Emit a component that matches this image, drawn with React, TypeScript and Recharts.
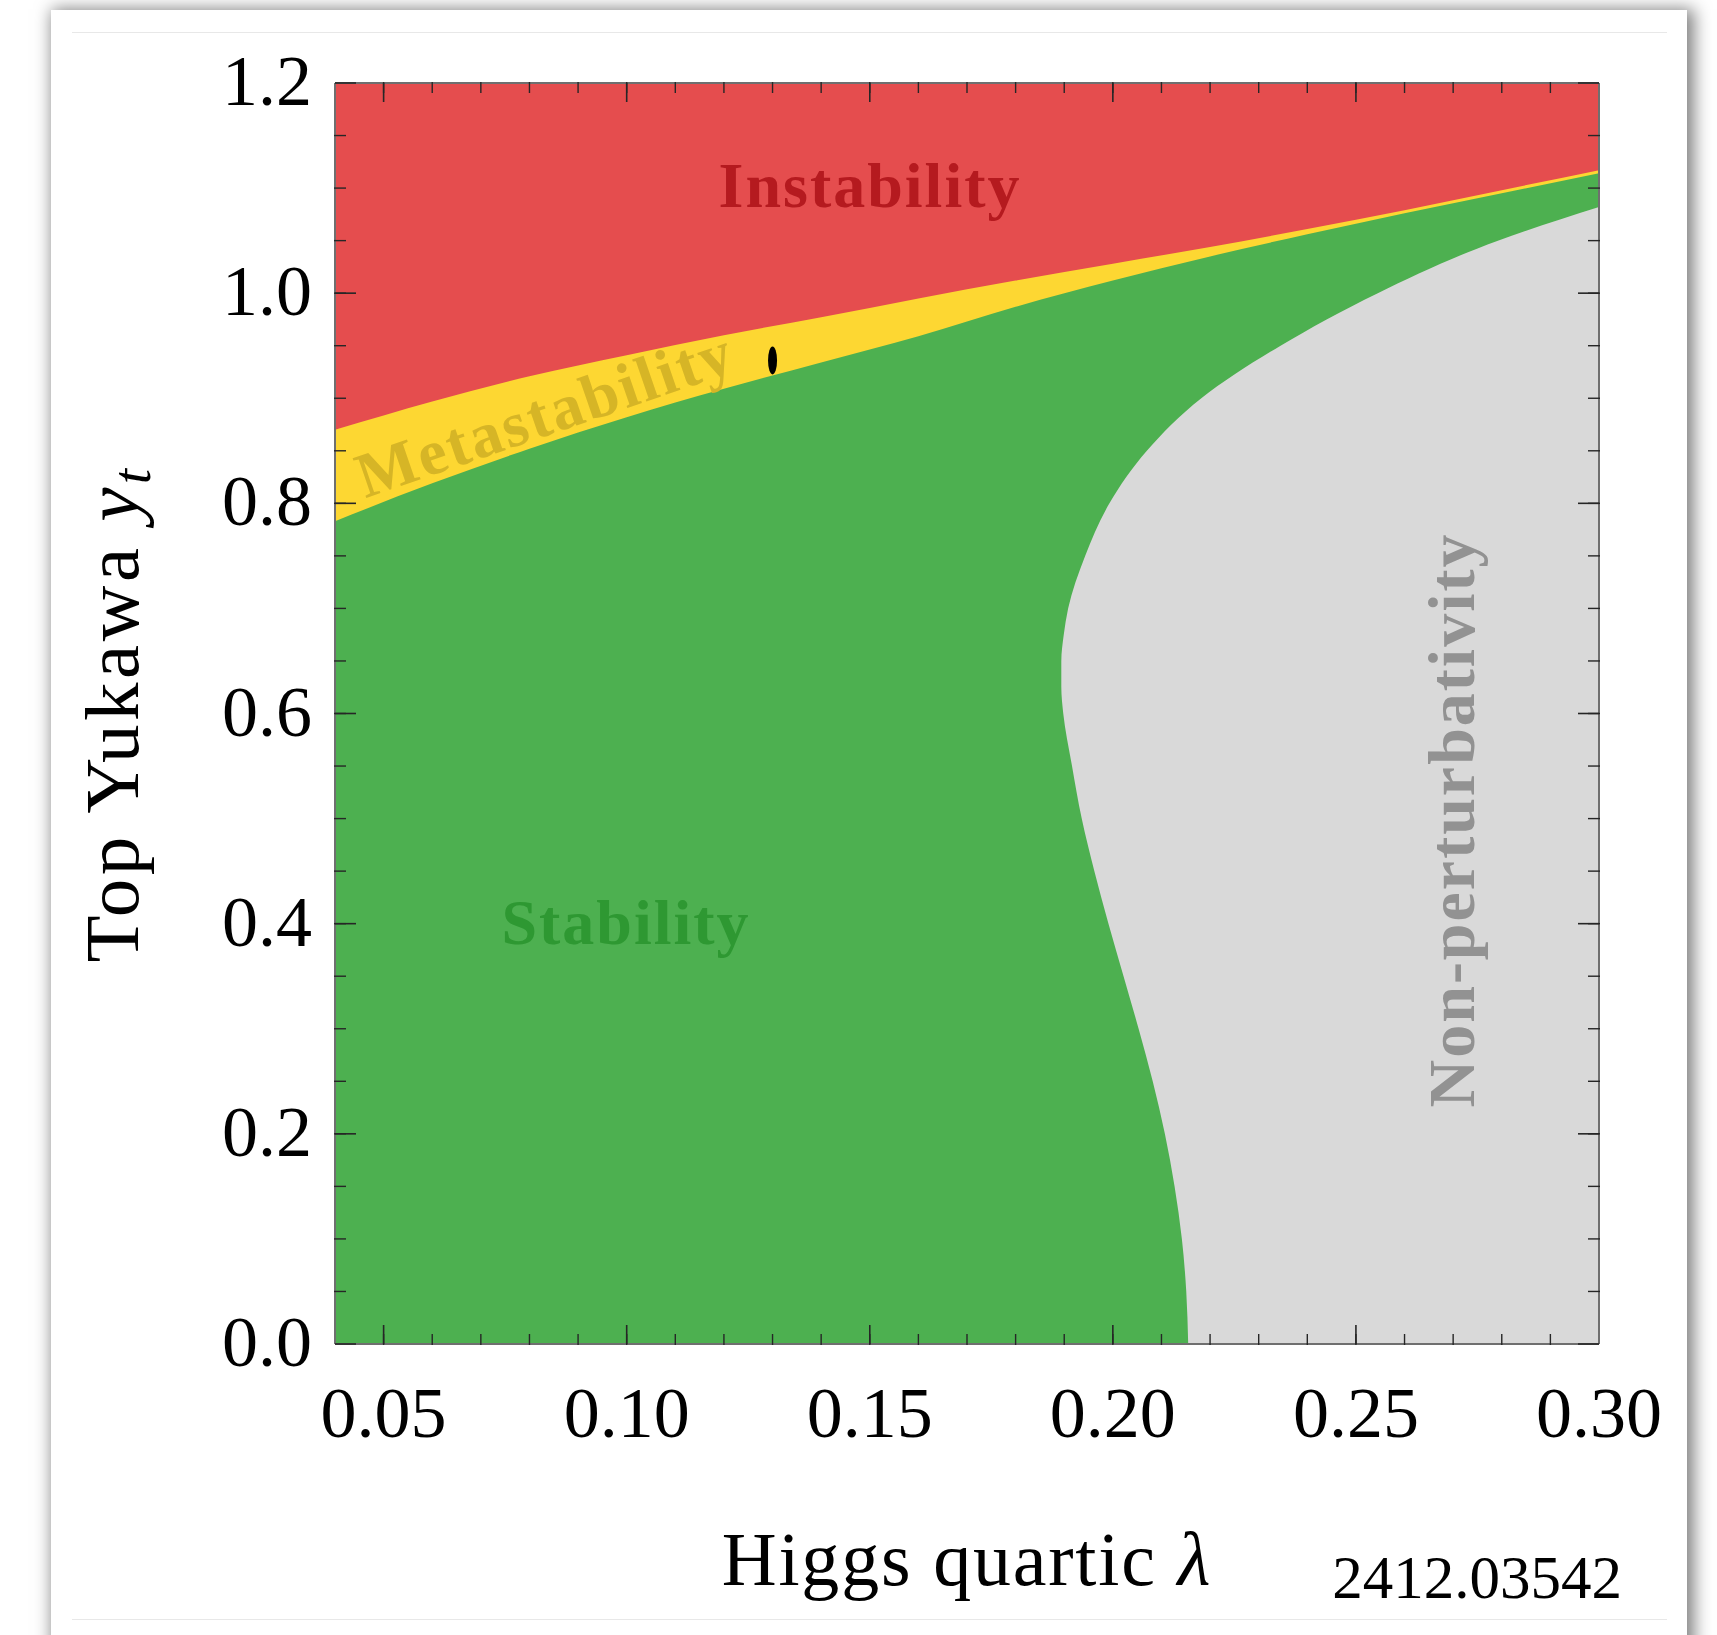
import React from "react";
import {
  Area,
  CartesianGrid,
  ComposedChart,
  Scatter,
  XAxis,
  YAxis,
} from "recharts";

const W = 1717;
const H = 1635;
const MARGIN = { top: 83, right: 118, bottom: 291, left: 335 };
// frame chart: two 1px axes on every side
const FRAME_MARGIN = { top: 81, right: 116, bottom: 289, left: 333 };
const FONT = "'Liberation Serif', 'Times New Roman', serif";

// Higgs quartic grid for the stability boundaries
const lambdaGrid = [0.04, 0.06, 0.08, 0.1, 0.12, 0.14, 0.16, 0.18, 0.2, 0.22, 0.24, 0.26, 0.28, 0.3];
// above this yukawa: instability
const instabilityEdge = [0.87, 0.897, 0.921, 0.941, 0.96, 0.977, 0.995, 1.012, 1.028, 1.044, 1.061, 1.079, 1.098, 1.117];
// below this yukawa: absolute stability
const stabilityEdge = [0.783, 0.819, 0.852, 0.882, 0.909, 0.934, 0.959, 0.987, 1.012, 1.035, 1.056, 1.076, 1.095, 1.114];

// non-perturbative boundary, lambda as a function of yukawa
const yukawaGrid = [
  1.082, 1.05, 1.0, 0.95, 0.9, 0.85, 0.8, 0.75, 0.7, 0.675, 0.65, 0.625, 0.6,
  0.55, 0.5, 0.45, 0.4, 0.35, 0.3, 0.25, 0.2, 0.15, 0.1, 0.05, 0,
];
const nonPertEdge = [
  0.3, 0.2792, 0.2545, 0.2345, 0.2182, 0.207, 0.1993, 0.1943, 0.1908, 0.1899,
  0.1894, 0.1894, 0.1898, 0.1916, 0.1936, 0.1962, 0.1991, 0.2022, 0.2053,
  0.2082, 0.2107, 0.2127, 0.2142, 0.2151, 0.2155,
];

// SM point
const smPoint = [{ x: 0.13, y: 0.936 }];

const xMajorTicks = [0.05, 0.1, 0.15, 0.2, 0.25, 0.3];
const xMinorTicks = [
  0.05, 0.06, 0.07, 0.08, 0.09, 0.1, 0.11, 0.12, 0.13, 0.14, 0.15, 0.16, 0.17,
  0.18, 0.19, 0.2, 0.21, 0.22, 0.23, 0.24, 0.25, 0.26, 0.27, 0.28, 0.29,
];
const yMajorTicks = [0, 0.2, 0.4, 0.6, 0.8, 1.0, 1.2];
const yMinorTicks = [
  0.05, 0.1, 0.15, 0.2, 0.25, 0.3, 0.35, 0.4, 0.45, 0.5, 0.55, 0.6, 0.65, 0.7,
  0.75, 0.8, 0.85, 0.9, 0.95, 1.0, 1.05, 1.1, 1.15,
];

const stabilityRows = lambdaGrid.map((x, i) => ({
  x,
  meta: instabilityEdge[i],
  stable: stabilityEdge[i],
}));

const nonPertRows = yukawaGrid.map((y, i) => ({ y, lam: nonPertEdge[i] }));

const TICK = "#262626";
const FRAME = "#6f6f6f";

const XTickLabel = (props: any) => {
  const { x, y, payload } = props;
  return (
    <text x={x} y={y + 93} textAnchor="middle" fontSize={72} fontFamily={FONT} fill="#000">
      {Number(payload.value).toFixed(2)}
    </text>
  );
};

const YTickLabel = (props: any) => {
  const { x, y, payload } = props;
  return (
    <text x={x - 23} y={y + 22} textAnchor="end" fontSize={72} fontFamily={FONT} fill="#000">
      {Number(payload.value).toFixed(1)}
    </text>
  );
};

// tick line only, no label
const NoLabel = () => <g />;

const SmEllipse = (props: any) => (
  <ellipse cx={props.cx} cy={props.cy} rx={4.5} ry={14} fill="#000" />
);

const abs = { position: "absolute" as const, left: 0, top: 0 };

const xCommon = {
  type: "number" as const,
  domain: [0.04, 0.3],
  allowDataOverflow: true,
  interval: 0 as const,
  height: 1,
};
const yCommon = {
  type: "number" as const,
  dataKey: "y",
  domain: [0, 1.2],
  reversed: true,
  allowDataOverflow: true,
  interval: 0 as const,
  width: 1,
};
const majorLine = { stroke: TICK, strokeWidth: 1.6 };
const minorLine = { stroke: TICK, strokeWidth: 1.4 };
const frameLine = { stroke: FRAME, strokeWidth: 2 };

export default function App() {
  return (
    <div style={{ ...abs, width: W, height: H, overflow: "hidden", background: "#fff" }}>
      {/* card */}
      <div
        style={{
          position: "absolute",
          left: 51,
          top: 10,
          width: 1636,
          height: 1720,
          background: "#fff",
          boxShadow: "4px 2px 16px 3px rgba(0,0,0,0.5)",
        }}
      />
      <div style={{ position: "absolute", left: 72, top: 32, width: 1595, height: 1, background: "#e8e8e8" }} />
      <div style={{ position: "absolute", left: 72, top: 1619, width: 1595, height: 1, background: "#e8e8e8" }} />

      {/* regions: instability (background), metastability, stability */}
      <div style={abs}>
        <ComposedChart width={W} height={H} data={stabilityRows} margin={MARGIN}>
          <CartesianGrid fill="#E54D4E" horizontal={false} vertical={false} />
          <XAxis hide type="number" dataKey="x" domain={[0.04, 0.3]} allowDataOverflow />
          <YAxis hide type="number" domain={[0, 1.2]} allowDataOverflow />
          <Area
            type="monotone"
            dataKey="meta"
            fill="#FDD732"
            fillOpacity={1}
            stroke="none"
            isAnimationActive={false}
          />
          <Area
            type="monotone"
            dataKey="stable"
            fill="#4DB050"
            fillOpacity={1}
            stroke="none"
            isAnimationActive={false}
          />
          <Scatter data={smPoint} dataKey="y" shape={SmEllipse} isAnimationActive={false} />
        </ComposedChart>
      </div>

      {/* non-perturbativity region + frame */}
      <div style={abs}>
        <ComposedChart width={W} height={H} data={nonPertRows} layout="vertical" margin={FRAME_MARGIN}>
          <XAxis
            {...xCommon}
            ticks={xMajorTicks}
            tickSize={-19}
            tickMargin={19}
            tick={<XTickLabel />}
            axisLine={frameLine}
            tickLine={majorLine}
          />
          <XAxis
            {...xCommon}
            xAxisId="bMinor"
            ticks={xMinorTicks}
            tickSize={-11}
            tick={<NoLabel />}
            axisLine={false}
            tickLine={minorLine}
          />
          <XAxis
            {...xCommon}
            xAxisId="tMajor"
            orientation="top"
            ticks={xMajorTicks}
            tickSize={-19}
            tick={<NoLabel />}
            axisLine={frameLine}
            tickLine={majorLine}
          />
          <XAxis
            {...xCommon}
            xAxisId="tMinor"
            orientation="top"
            ticks={xMinorTicks}
            tickSize={-11}
            tick={<NoLabel />}
            axisLine={false}
            tickLine={minorLine}
          />
          <YAxis
            {...yCommon}
            ticks={yMajorTicks}
            tickSize={-21}
            tickMargin={21}
            tick={<YTickLabel />}
            axisLine={frameLine}
            tickLine={majorLine}
          />
          <YAxis
            {...yCommon}
            yAxisId="lMinor"
            ticks={yMinorTicks}
            tickSize={-12}
            tick={<NoLabel />}
            axisLine={false}
            tickLine={minorLine}
          />
          <YAxis
            {...yCommon}
            yAxisId="rMajor"
            orientation="right"
            ticks={yMajorTicks}
            tickSize={-21}
            tick={<NoLabel />}
            axisLine={frameLine}
            tickLine={majorLine}
          />
          <YAxis
            {...yCommon}
            yAxisId="rMinor"
            orientation="right"
            ticks={yMinorTicks}
            tickSize={-12}
            tick={<NoLabel />}
            axisLine={false}
            tickLine={minorLine}
          />
          <Area
            type="monotone"
            dataKey="lam"
            baseValue="dataMax"
            fill="#D9D9D9"
            fillOpacity={1}
            stroke="none"
            isAnimationActive={false}
          />
        </ComposedChart>
      </div>

      {/* labels */}
      <svg width={W} height={H} style={{ ...abs, pointerEvents: "none" }} fontFamily={FONT}>
        <text x={870} y={207} textAnchor="middle" fontSize={64} fontWeight="bold" letterSpacing={2} fill="#B51A1F">
          Instability
        </text>
        <text
          x={552}
          y={434}
          textAnchor="middle"
          fontSize={64}
          fontWeight="bold"
          letterSpacing={2.5}
          fill="#D6B526"
          transform="rotate(-19 552 434)"
        >
          Metastability
        </text>
        <text x={626} y={944} textAnchor="middle" fontSize={64} fontWeight="bold" letterSpacing={2} fill="#2E9832">
          Stability
        </text>
        <text
          x={1474}
          y={820}
          textAnchor="middle"
          fontSize={66}
          fontWeight="bold"
          letterSpacing={2}
          fill="#929292"
          transform="rotate(-90 1474 820)"
        >
          Non-perturbativity
        </text>
        <text
          x={138}
          y={714}
          textAnchor="middle"
          fontSize={77}
          letterSpacing={3.5}
          fill="#000"
          transform="rotate(-90 138 714)"
        >
          Top Yukawa{" "}
          <tspan fontStyle="italic">y</tspan>
          <tspan fontStyle="italic" fontSize={54} dy={12}>
            t
          </tspan>
        </text>
        <text x={967} y={1585} textAnchor="middle" fontSize={76} letterSpacing={1.8} fill="#000">
          Higgs quartic <tspan fontStyle="italic">λ</tspan>
        </text>
        <text x={1477} y={1598} textAnchor="middle" fontSize={61} fill="#000">
          2412.03542
        </text>
      </svg>
    </div>
  );
}
